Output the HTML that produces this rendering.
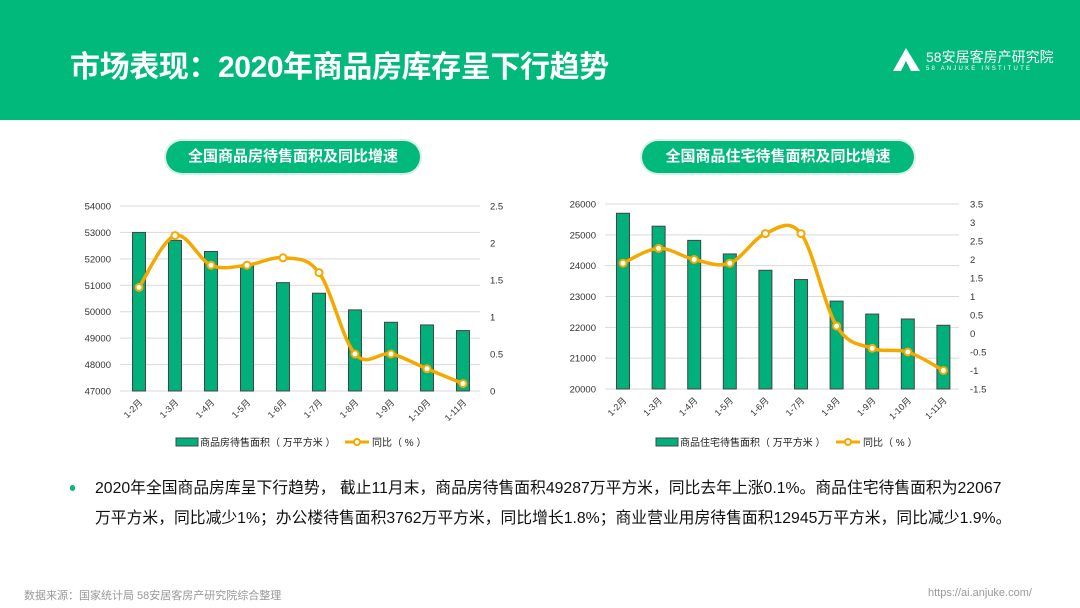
<!DOCTYPE html>
<html><head><meta charset="utf-8"><style>
*{margin:0;padding:0;box-sizing:border-box}
body{width:1080px;height:608px;position:relative;background:#fff;font-family:"Liberation Sans","Noto Sans CJK SC",sans-serif;overflow:hidden}
.hdr{position:absolute;left:0;top:0;width:1080px;height:120px;background:#00b97a}
.title{position:absolute;left:70px;top:42px;color:#fff;font-size:30px;font-weight:bold;letter-spacing:-0.4px;white-space:nowrap}
.logo{position:absolute;left:893px;top:47px;color:#fff}
.pill{position:absolute;top:141px;height:32px;border-radius:16px;background:#00b97a;color:#fff;font-weight:bold;font-size:15px;line-height:32px;text-align:center;box-shadow:0 0 0 2px #d8f0e4}
.txt{position:absolute;left:95px;width:960px;font-size:15.8px;color:#111;line-height:30px;top:474px;white-space:nowrap}
.dot{position:absolute;left:70px;top:485px;width:5px;height:6px;border-radius:3px;background:#00b97a}
.foot{position:absolute;top:587px;font-size:11px;color:#999}
svg text{font-family:"Liberation Sans","Noto Sans CJK SC",sans-serif}
</style></head><body>
<div class="hdr"></div>
<div class="title">市场表现：2020年商品房库存呈下行趋势</div>
<div class="logo">
<svg width="30" height="26" style="position:absolute;left:0;top:0"><polygon points="13,1 27,24 18,24 13,14 8,24 0,24" fill="#fff"/></svg>
<div style="position:absolute;left:33px;top:0;font-size:14px;white-space:nowrap">58安居客房产研究院</div>
<div style="position:absolute;left:33px;top:19px;font-size:6px;letter-spacing:2.2px;white-space:nowrap">58 ANJUKE INSTITUTE</div>
</div>
<div class="pill" style="left:166px;width:254px">全国商品房待售面积及同比增速</div>
<div class="pill" style="left:642px;width:272px">全国商品住宅待售面积及同比增速</div>
<svg id="c1" width="1080" height="460" style="position:absolute;left:0;top:0"></svg>
<div class="dot"></div>
<div class="txt">2020年全国商品房库呈下行趋势， 截止11月末，商品房待售面积49287万平方米，同比去年上涨0.1%。商品住宅待售面积为22067<br>万平方米，同比减少1%；办公楼待售面积3762万平方米，同比增长1.8%；商业营业用房待售面积12945万平方米，同比减少1.9%。</div>
<div class="foot" style="left:24px">数据来源：国家统计局 58安居客房产研究院综合整理</div>
<div class="foot" style="left:928px">https://ai.anjuke.com/</div>
<script>
const cats=["1-2月","1-3月","1-4月","1-5月","1-6月","1-7月","1-8月","1-9月","1-10月","1-11月"];
const area1=[53000,52700,52280,51750,51100,50700,50070,49600,49500,49287];
const yoy1=[1.4,2.1,1.7,1.7,1.8,1.6,0.5,0.5,0.3,0.1];
const area2=[25700,25280,24820,24380,23850,23550,22850,22430,22270,22067];
const yoy2=[1.9,2.3,2.0,1.9,2.7,2.7,0.2,-0.4,-0.5,-1.0];
const lTicks1=[47000,48000,49000,50000,51000,52000,53000,54000];
const rTicks1=["0","0.5","1","1.5","2","2.5"];
const lTicks2=[20000,21000,22000,23000,24000,25000,26000];
const rTicks2=["-1.5","-1","-0.5","0","0.5","1","1.5","2","2.5","3","3.5"];
const svg=document.getElementById('c1');const NS="http://www.w3.org/2000/svg";
function mk(t,a,txt){const e=document.createElementNS(NS,t);for(const k in a)e.setAttribute(k,a[k]);if(txt!=null)e.textContent=txt;svg.appendChild(e);return e;}
function smooth(p){let d="M"+p[0][0]+","+p[0][1];for(let i=0;i<p.length-1;i++){const p0=p[i-1]||p[i],p1=p[i],p2=p[i+1],p3=p[i+2]||p2;const t=0.17;d+=" C"+(p1[0]+(p2[0]-p0[0])*t)+","+(p1[1]+(p2[1]-p0[1])*t)+" "+(p2[0]-(p3[0]-p1[0])*t)+","+(p2[1]-(p3[1]-p1[1])*t)+" "+p2[0]+","+p2[1];}return d;}
function chart(o){
 const {x0,x1,yT,yB,lmin,lmax,rmin,rmax,lt,rt,area,yoy,c0,step,lx,rx,leg,legx,leg2x}=o;
 const yl=v=>yB-(v-lmin)/(lmax-lmin)*(yB-yT);
 const yr=v=>yB-(v-rmin)/(rmax-rmin)*(yB-yT);
 const xc=i=>c0+i*step;
 lt.forEach(v=>{let g=mk('line',{x1:x0,x2:x1,y1:yl(v),y2:yl(v),stroke:'#d9d9d9','stroke-width':1});
  let t=mk('text',{x:lx,y:yl(v)+3.5,'font-size':9.5,fill:'#333','text-anchor':'end'},String(v));});
 rt.forEach(s=>{let t=mk('text',{x:rx,y:yr(parseFloat(s))+3.5,'font-size':9.5,fill:'#333'},s);});
 area.forEach((v,i)=>{let r=mk('rect',{x:xc(i)-6.5,y:yl(v),width:13,height:yB-yl(v),fill:'#00b07a',stroke:'#444','stroke-width':1});});
 cats.forEach((c,i)=>{let t=mk('text',{x:xc(i)+4,y:yB+12,'font-size':9,fill:'#333','text-anchor':'end',transform:`rotate(-45 ${xc(i)+4} ${yB+12})`},c);});
 const pts=yoy.map((v,i)=>[xc(i),yr(v)]);
 let p=mk('path',{d:smooth(pts),fill:'none',stroke:'#f5a800','stroke-width':3.5});
 pts.forEach(q=>{let c=mk('circle',{cx:q[0],cy:q[1],r:3.5,fill:'#fff',stroke:'#f5a800','stroke-width':2});});
 let lr=mk('rect',{x:legx,y:438,width:22,height:8,fill:'#00b07a',stroke:'#444','stroke-width':1});
 let lt1=mk('text',{x:legx+24,y:446,'font-size':10,fill:'#222'},leg+"（ 万平方米 ）");
 const lx2=leg2x;
 let ll=mk('line',{x1:lx2,x2:lx2+24,y1:442,y2:442,stroke:'#f5a800','stroke-width':3});
 let lc=mk('circle',{cx:lx2+12,cy:442,r:3,fill:'#fff',stroke:'#f5a800','stroke-width':2});
 let lt2=mk('text',{x:lx2+27,y:446,'font-size':10,fill:'#222'},"同比（ % ）");
}
chart({x0:120,x1:480,yT:206,yB:391,lmin:47000,lmax:54000,rmin:0,rmax:2.5,lt:lTicks1,rt:rTicks1,area:area1,yoy:yoy1,c0:139,step:36,lx:111,rx:490,leg:"商品房待售面积",legx:176,leg2x:345});
chart({x0:605,x1:959,yT:204,yB:389,lmin:20000,lmax:26000,rmin:-1.5,rmax:3.5,lt:lTicks2,rt:rTicks2,area:area2,yoy:yoy2,c0:623,step:35.6,lx:596,rx:970,leg:"商品住宅待售面积",legx:656,leg2x:836});
</script>
</body></html>
